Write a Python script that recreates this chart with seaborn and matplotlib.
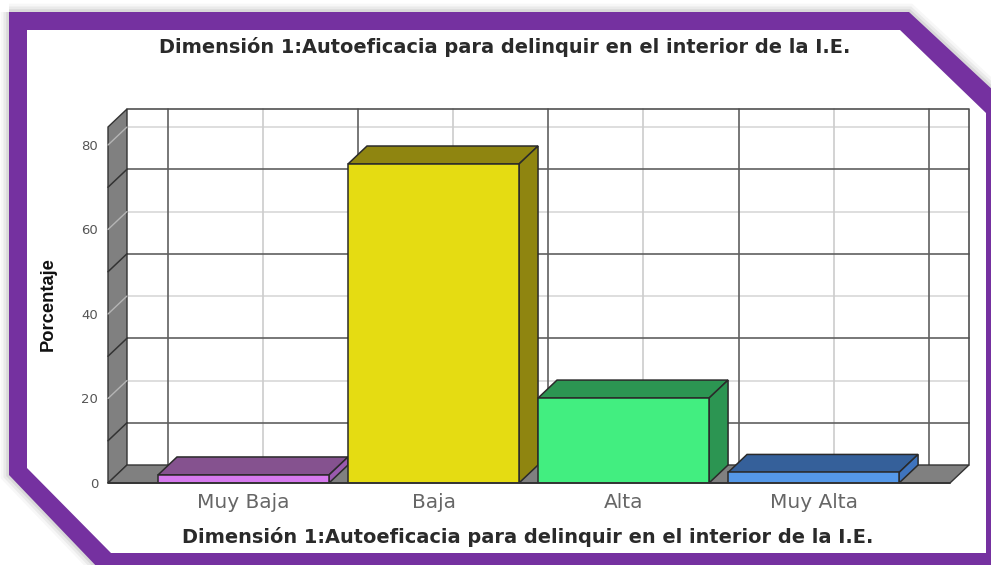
import matplotlib
matplotlib.use("Agg")
import matplotlib.pyplot as plt
import seaborn as sns
from matplotlib.patches import Polygon

# datos
categorias = ["Muy Baja", "Baja", "Alta", "Muy Alta"]
porcentaje = [1.9, 75.5, 20.1, 2.5]
ticks_y = [0, 20, 40, 60, 80]
lineas_oscuras = [10, 30, 50, 70]
lineas_claras = [20, 40, 60, 80]

color_frente = ["#D67AEE", "#E5DC12", "#42EE80", "#5598E8"]
color_tapa = ["#85528F", "#8F8510", "#2C9552", "#35609A"]
color_lado = ["#9A5AAE", "#8F8510", "#2C9552", "#3F74BE"]

titulo = "Dimensión 1:Autoeficacia para delinquir en el interior de la I.E."
W, H = 991, 565

sns.set_theme(style="white")
plt.rcParams["font.family"] = ["DejaVu Sans"]

fig = plt.figure(figsize=(W / 100, H / 100), dpi=100, facecolor="white")

# marco morado
fondo = fig.add_axes([0, 0, 1, 1], zorder=0)
fondo.set_xlim(0, W)
fondo.set_ylim(H, 0)
fondo.axis("off")
exterior = [(9, 12), (909, 12), (995, 92), (995, 570), (100, 570), (9, 475)]
interior = [(27, 30), (900, 30), (986, 113), (986, 553), (111, 553), (27, 468)]
for lw, a in [(12, 0.03), (8, 0.05), (4, 0.07)]:
    fondo.add_patch(Polygon(exterior, closed=True, fc="none", ec="black", lw=lw, alpha=a))
fondo.add_patch(Polygon(exterior, closed=True, fc="#7531A0", ec="none"))
fondo.add_patch(Polygon(interior, closed=True, fc="white", ec="none"))

# ejes ajustados a los pixeles del plano frontal
ax = fig.add_axes([108 / W, (H - 483) / H, (950 - 108) / W, (483 - 127) / H], zorder=1)
ax.patch.set_alpha(0)

sns.barplot(x=categorias, y=porcentaje, hue=categorias, palette=color_frente, width=0.9,
            legend=False, saturation=1, edgecolor="#2a2a2a", linewidth=1.1, ax=ax, zorder=3)

x_min, x_max = -0.713, 3.718
y_max = 84.26
dx, dy = 0.1, 4.26  # profundidad del efecto 3D en unidades de datos
grid_dx = 0.105
ax.set_xlim(x_min, x_max)
ax.set_ylim(0, y_max)

# pared del fondo
for v in lineas_claras:
    ax.plot([x_min + dx, x_max + dx], [v + dy, v + dy], color="#d8d8d8", lw=1.2, zorder=1, clip_on=False)
for i in range(len(categorias)):
    ax.plot([i + grid_dx, i + grid_dx], [dy, y_max + dy], color="#cccccc", lw=1.2, zorder=1, clip_on=False)
for v in lineas_oscuras:
    ax.plot([x_min + dx, x_max + dx], [v + dy, v + dy], color="#606060", lw=1.2, zorder=1.1, clip_on=False)
for i in range(len(categorias) + 1):
    ax.plot([i - 0.5 + grid_dx, i - 0.5 + grid_dx], [dy, y_max + dy], color="#606060", lw=1.2, zorder=1.1,
            clip_on=False)
ax.plot([x_min + dx, x_max + dx, x_max + dx], [y_max + dy, y_max + dy, dy], color="#505050", lw=1.2,
        zorder=1.2, clip_on=False)

# pared izquierda y piso
ax.add_patch(Polygon([(x_min, 0), (x_min + dx, dy), (x_min + dx, y_max + dy), (x_min, y_max)],
                     fc="#808080", ec="#333333", lw=1.0, zorder=1.5, clip_on=False))
ax.add_patch(Polygon([(x_min, 0), (x_min + dx, dy), (x_max + dx, dy), (x_max, 0)],
                     fc="#808080", ec="#333333", lw=1.0, zorder=1.5, clip_on=False))
for v in lineas_oscuras:
    ax.plot([x_min, x_min + dx], [v, v + dy], color="#333333", lw=1.1, zorder=1.6, clip_on=False)
for v in lineas_claras:
    ax.plot([x_min, x_min + dx], [v, v + dy], color="#b5b5b5", lw=1.0, zorder=1.6, clip_on=False)

# tapa y lado de cada barra
for barra, tapa, lado in zip(ax.patches[:4], color_tapa, color_lado):
    x0, x1, alto = barra.get_x(), barra.get_x() + barra.get_width(), barra.get_height()
    ax.add_patch(Polygon([(x0, alto), (x1, alto), (x1 + dx, alto + dy), (x0 + dx, alto + dy)],
                         fc=tapa, ec="#2a2a2a", lw=1.1, zorder=2.5, clip_on=False))
    ax.add_patch(Polygon([(x1, 0), (x1 + dx, dy), (x1 + dx, alto + dy), (x1, alto)],
                         fc=lado, ec="#2a2a2a", lw=1.1, zorder=2.5, clip_on=False))

ax.plot([x_min, x_max], [0, 0], color="#333333", lw=1.3, zorder=4, clip_on=False)

sns.despine(ax=ax, left=True, bottom=True)
ax.set_yticks(ticks_y)
ax.tick_params(axis="y", length=0, pad=7, labelsize=9.5, labelcolor="#555555")
ax.tick_params(axis="x", length=0, pad=7, labelsize=14.5, labelcolor="#666666")

# textos
ax.set_ylabel("Porcentaje", fontsize=13.2, fontweight="bold", color="#111111",
              family=["Liberation Sans Narrow", "Liberation Sans"], va="center")
ax.yaxis.set_label_coords((48 - 108) / (950 - 108), (483 - 304) / (483 - 127))
ax.set_xlabel(titulo, fontsize=13.95, fontweight="bold", color="#2a2a2a", va="center")
ax.xaxis.set_label_coords((528 - 108) / (950 - 108), (483 - 537) / (483 - 127))
fig.text(505 / W, 1 - 47 / H, titulo, fontsize=13.95, fontweight="bold", color="#2a2a2a", ha="center", va="center")

fig.savefig("out.png", dpi=100)
